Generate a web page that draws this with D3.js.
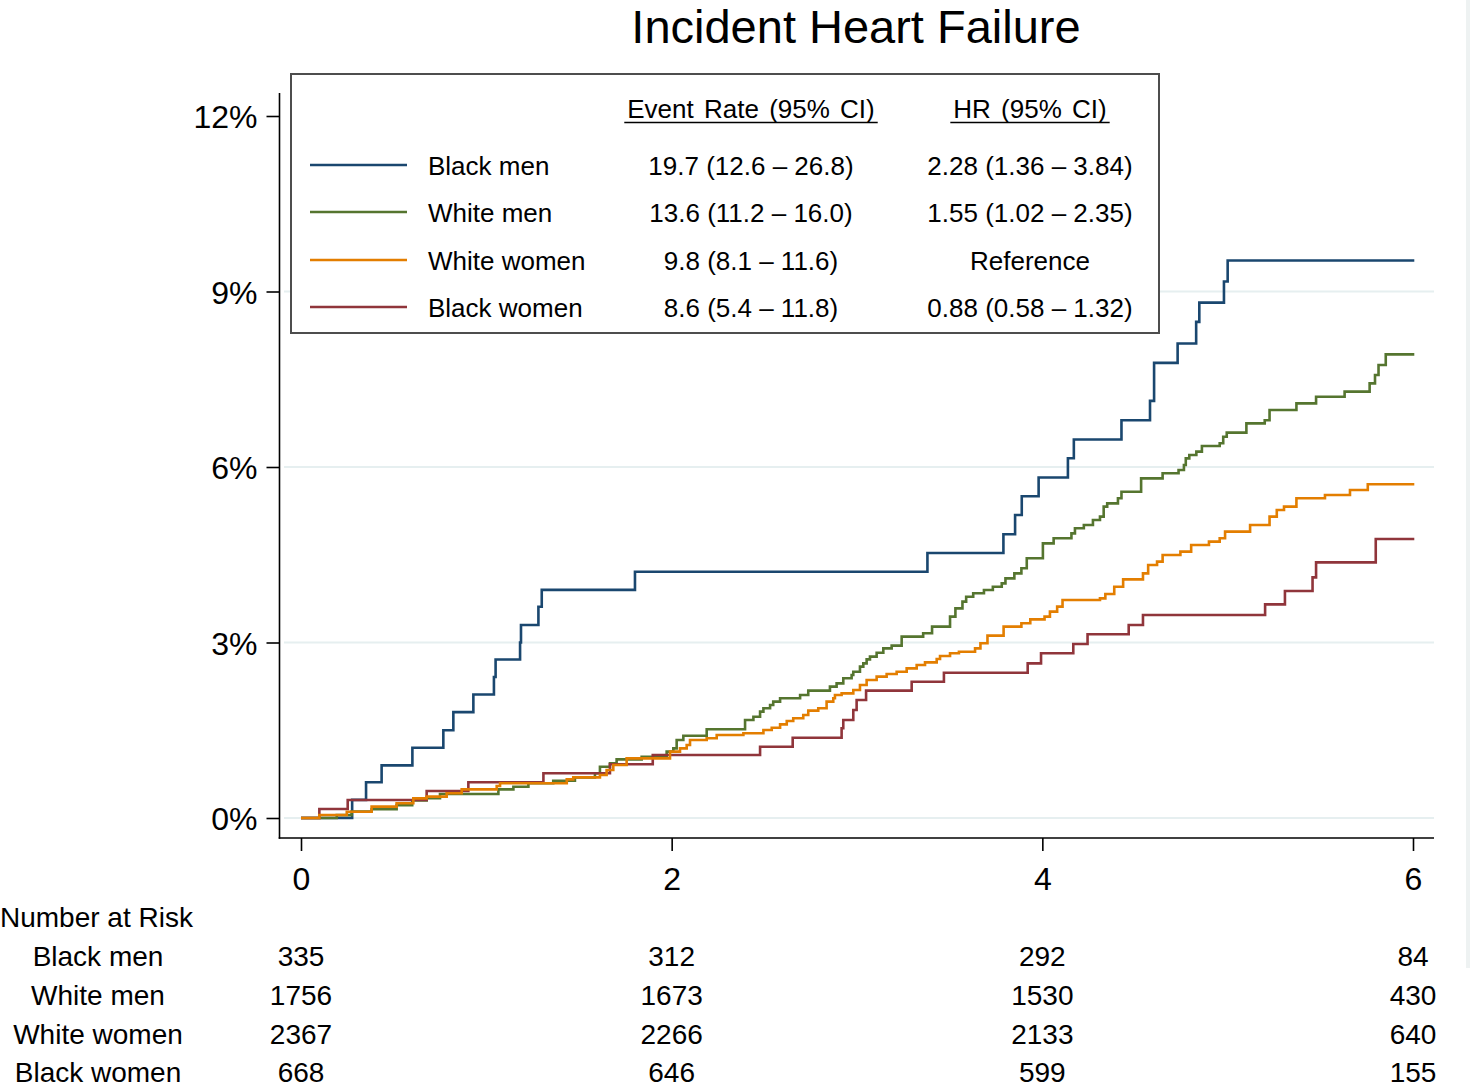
<!DOCTYPE html>
<html>
<head>
<meta charset="utf-8">
<script src="https://cdn.jsdelivr.net/npm/d3@7"></script>
<style>
  html, body { margin: 0; padding: 0; background: #fff; }
  svg { display: block; }
  text { font-family: "Liberation Sans", Arial, sans-serif; fill: #000; }
</style>
</head>
<body>
<svg id="chart" width="1470" height="1089"></svg>
<script>
// ---------------- DATA ----------------
const seriesNames = ["Black men", "White men", "White women", "Black women"];
const seriesColors = ["#1a476f", "#55752f", "#e37e00", "#90353b"];
const eventRates = ["19.7 (12.6 \u2013 26.8)", "13.6 (11.2 \u2013 16.0)", "9.8 (8.1 \u2013 11.6)", "8.6 (5.4 \u2013 11.8)"];
const hazardRatios = ["2.28 (1.36 \u2013 3.84)", "1.55 (1.02 \u2013 2.35)", "Reference", "0.88 (0.58 \u2013 1.32)"];

// Black men: event times (years) and cumulative incidence (%)
const blackMenT = [0, 0.276, 0.351, 0.435, 0.601, 0.768, 0.822, 0.930, 1.041, 1.050, 1.182, 1.187, 1.281, 1.299, 1.802, 3.380, 3.790, 3.853, 3.889, 3.980, 4.138, 4.170, 4.427, 4.581, 4.603, 4.730, 4.830, 4.847, 4.980, 5.000, 6.007];
const blackMenY = [0, 0.31, 0.61, 0.90, 1.20, 1.50, 1.81, 2.11, 2.41, 2.71, 3.00, 3.30, 3.61, 3.90, 4.21, 4.53, 4.85, 5.18, 5.50, 5.82, 6.15, 6.47, 6.80, 7.13, 7.78, 8.11, 8.48, 8.81, 9.17, 9.53, 9.53];

// White men
const whiteMenT = [0, 0.193, 0.273, 0.381, 0.516, 0.600, 0.678, 0.750, 1.065, 1.146, 1.227, 1.361, 1.478, 1.586, 1.613, 1.667, 1.703, 1.838, 1.973, 2.009, 2.027, 2.063, 2.189, 2.396, 2.441, 2.477, 2.495, 2.531, 2.548, 2.585, 2.693, 2.737, 2.854, 2.890, 2.926, 2.971, 2.980, 3.016, 3.034, 3.052, 3.070, 3.106, 3.142, 3.187, 3.241, 3.357, 3.405, 3.502, 3.531, 3.569, 3.589, 3.627, 3.685, 3.733, 3.781, 3.801, 3.849, 3.887, 3.916, 4.003, 4.061, 4.157, 4.176, 4.224, 4.273, 4.311, 4.331, 4.350, 4.408, 4.427, 4.533, 4.649, 4.735, 4.764, 4.774, 4.793, 4.831, 4.861, 4.957, 4.976, 4.995, 5.101, 5.200, 5.226, 5.371, 5.477, 5.631, 5.766, 5.795, 5.814, 5.853, 6.007];
const whiteMenY = [0, 0.05, 0.11, 0.15, 0.22, 0.30, 0.34, 0.41, 0.49, 0.535, 0.593, 0.638, 0.695, 0.764, 0.877, 0.934, 1.003, 1.048, 1.134, 1.191, 1.333, 1.407, 1.516, 1.675, 1.732, 1.818, 1.875, 1.932, 1.989, 2.046, 2.103, 2.177, 2.245, 2.302, 2.388, 2.444, 2.501, 2.587, 2.644, 2.712, 2.758, 2.826, 2.900, 2.946, 3.100, 3.157, 3.271, 3.442, 3.584, 3.698, 3.783, 3.841, 3.897, 3.954, 4.011, 4.097, 4.182, 4.268, 4.439, 4.695, 4.781, 4.866, 4.952, 5.009, 5.094, 5.151, 5.322, 5.379, 5.465, 5.578, 5.806, 5.892, 5.949, 6.034, 6.148, 6.205, 6.262, 6.359, 6.405, 6.518, 6.587, 6.746, 6.800, 6.974, 7.088, 7.202, 7.288, 7.430, 7.573, 7.744, 7.926, 7.926];

// White women
const whiteWomenT = [0, 0.099, 0.247, 0.381, 0.516, 0.606, 0.678, 0.786, 0.867, 1.056, 1.074, 1.434, 1.469, 1.613, 1.649, 1.685, 1.757, 1.991, 2.045, 2.081, 2.099, 2.189, 2.243, 2.387, 2.495, 2.540, 2.585, 2.621, 2.656, 2.710, 2.737, 2.791, 2.836, 2.872, 2.881, 2.917, 2.980, 3.016, 3.052, 3.106, 3.160, 3.214, 3.268, 3.322, 3.367, 3.430, 3.448, 3.502, 3.550, 3.637, 3.666, 3.704, 3.791, 3.887, 3.935, 4.012, 4.041, 4.080, 4.109, 4.311, 4.340, 4.388, 4.436, 4.543, 4.571, 4.619, 4.649, 4.745, 4.803, 4.899, 4.957, 4.986, 5.121, 5.226, 5.265, 5.304, 5.371, 5.525, 5.660, 5.756, 6.007];
const whiteWomenY = [0, 0.051, 0.108, 0.194, 0.251, 0.336, 0.365, 0.422, 0.490, 0.547, 0.593, 0.661, 0.695, 0.735, 0.821, 0.906, 1.020, 1.134, 1.191, 1.248, 1.333, 1.362, 1.419, 1.448, 1.504, 1.544, 1.601, 1.658, 1.704, 1.761, 1.835, 1.875, 1.989, 2.046, 2.103, 2.131, 2.188, 2.274, 2.359, 2.416, 2.462, 2.501, 2.558, 2.615, 2.661, 2.718, 2.769, 2.815, 2.843, 2.900, 2.986, 3.117, 3.271, 3.328, 3.396, 3.442, 3.527, 3.613, 3.727, 3.755, 3.829, 3.954, 4.079, 4.182, 4.325, 4.382, 4.496, 4.553, 4.667, 4.724, 4.781, 4.895, 5.009, 5.151, 5.265, 5.322, 5.465, 5.521, 5.607, 5.704, 5.704];

// Black women
const blackWomenT = [0, 0.099, 0.252, 0.678, 0.903, 1.308, 1.667, 1.898, 2.477, 2.653, 2.917, 2.926, 2.980, 2.998, 3.049, 3.295, 3.469, 3.921, 3.993, 4.167, 4.244, 4.466, 4.543, 5.202, 5.309, 5.458, 5.477, 5.799, 6.007];
const blackWomenY = [0, 0.154, 0.308, 0.462, 0.610, 0.764, 0.920, 1.077, 1.219, 1.373, 1.533, 1.675, 1.846, 2.017, 2.177, 2.330, 2.484, 2.644, 2.815, 2.974, 3.140, 3.299, 3.470, 3.652, 3.880, 4.114, 4.370, 4.769, 4.769];

const xTicks = [0, 2, 4, 6];
const yTicks = [0, 3, 6, 9, 12];
const gridTicks = [0, 3, 6, 9];

const riskLabels = ["Black men", "White men", "White women", "Black women"];
const riskTimes = [0, 2, 4, 6];
const riskBlackMen = [335, 312, 292, 84];
const riskWhiteMen = [1756, 1673, 1530, 430];
const riskWhiteWomen = [2367, 2266, 2133, 640];
const riskBlackWomen = [668, 646, 599, 155];

// ---------------- CHART ----------------
const svg = d3.select("#chart");
const x = d3.scaleLinear().domain([0, 6]).range([301, 1413]);
const y = d3.scaleLinear().domain([0, 12]).range([818, 116]);

const axisX = 279.5, axisY = 838;
const plotTop = 93, plotRight = 1434;

// faint right edge strip
svg.append("rect").attr("x", 1466).attr("y", 0).attr("width", 4).attr("height", 968).attr("fill", "#eef2f2");

// title
svg.append("text").attr("x", 856).attr("y", 43).attr("text-anchor", "middle")
  .style("font-size", "47px").text("Incident Heart Failure");

// gridlines
svg.append("g").selectAll("line").data(gridTicks).join("line")
  .attr("x1", 284).attr("x2", plotRight)
  .attr("y1", d => y(d)).attr("y2", d => y(d))
  .attr("stroke", "#e6eff0").attr("stroke-width", 2);

// y axis
const gy = svg.append("g").attr("transform", `translate(${axisX},0)`)
  .call(d3.axisLeft(y).tickValues(yTicks).tickSize(13).tickPadding(9).tickFormat(d => d + "%"));
gy.select(".domain").remove();
gy.selectAll(".tick line").attr("stroke", "#000").attr("stroke-width", 1.6);
gy.selectAll(".tick text").style("font-size", "32px").style("font-family", '"Liberation Sans", Arial, sans-serif')
  .attr("fill", "#000").attr("dy", "0.36em");
svg.append("line").attr("x1", axisX).attr("x2", axisX).attr("y1", plotTop).attr("y2", axisY + 0.8)
  .attr("stroke", "#000").attr("stroke-width", 1.6);

// x axis
const gx = svg.append("g").attr("transform", `translate(0,${axisY})`)
  .call(d3.axisBottom(x).tickValues(xTicks).tickSize(13).tickPadding(16).tickFormat(d3.format("d")));
gx.select(".domain").remove();
gx.selectAll(".tick line").attr("stroke", "#000").attr("stroke-width", 1.6);
gx.selectAll(".tick text").style("font-size", "32px").style("font-family", '"Liberation Sans", Arial, sans-serif')
  .attr("fill", "#000");
svg.append("line").attr("x1", axisX - 0.8).attr("x2", plotRight).attr("y1", axisY).attr("y2", axisY)
  .attr("stroke", "#000").attr("stroke-width", 1.6);

// curves
const curves = [
  {t: blackMenT, v: blackMenY, c: seriesColors[0]},
  {t: whiteMenT, v: whiteMenY, c: seriesColors[1]},
  {t: blackWomenT, v: blackWomenY, c: seriesColors[3]},
  {t: whiteWomenT, v: whiteWomenY, c: seriesColors[2]}
];
const line = d3.line().x(d => x(d[0])).y(d => y(d[1])).curve(d3.curveStepAfter);
svg.append("g").selectAll("path").data(curves).join("path")
  .attr("d", d => line(d.t.map((t, i) => [t, d.v[i]])))
  .attr("fill", "none").attr("stroke", d => d.c).attr("stroke-width", 2.6)
  .attr("stroke-linejoin", "miter");

// legend
const lg = svg.append("g");
lg.append("rect").attr("x", 291).attr("y", 74).attr("width", 868).attr("height", 259)
  .attr("fill", "#fff").attr("stroke", "#4d4d4d").attr("stroke-width", 2);
const headers = [{x: 751, t: "Event Rate (95% CI)"}, {x: 1030, t: "HR (95% CI)"}];
headers.forEach(h => {
  const tx = lg.append("text").attr("x", h.x).attr("y", 118).attr("text-anchor", "middle")
    .style("font-size", "26px").style("word-spacing", "3px").text(h.t);
  const w = tx.node().getComputedTextLength() + 6;
  lg.append("line").attr("x1", h.x - w / 2).attr("x2", h.x + w / 2).attr("y1", 122.5).attr("y2", 122.5)
    .attr("stroke", "#000").attr("stroke-width", 1.6);
});
const rowY = [166, 213, 261, 308];
seriesNames.forEach((n, i) => {
  lg.append("line").attr("x1", 310).attr("x2", 407).attr("y1", rowY[i] - 1).attr("y2", rowY[i] - 1)
    .attr("stroke", seriesColors[i]).attr("stroke-width", 2.6);
  lg.append("text").attr("x", 428).attr("y", rowY[i] + 9).style("font-size", "26px").text(n);
  lg.append("text").attr("x", 751).attr("y", rowY[i] + 9).attr("text-anchor", "middle").style("font-size", "26px").text(eventRates[i]);
  lg.append("text").attr("x", 1030).attr("y", rowY[i] + 9).attr("text-anchor", "middle").style("font-size", "26px").text(hazardRatios[i]);
});

// number at risk table
svg.append("text").attr("x", 0).attr("y", 927).style("font-size", "28px").text("Number at Risk");
const riskRows = [riskBlackMen, riskWhiteMen, riskWhiteWomen, riskBlackWomen];
const riskY = [966, 1005, 1044, 1082];
riskRows.forEach((row, i) => {
  svg.append("text").attr("x", 98).attr("y", riskY[i]).attr("text-anchor", "middle")
    .style("font-size", "28px").text(riskLabels[i]);
  row.forEach((v, j) => {
    svg.append("text").attr("x", x(riskTimes[j])).attr("y", riskY[i]).attr("text-anchor", "middle")
      .style("font-size", "28px").text(v);
  });
});
</script>
</body>
</html>
